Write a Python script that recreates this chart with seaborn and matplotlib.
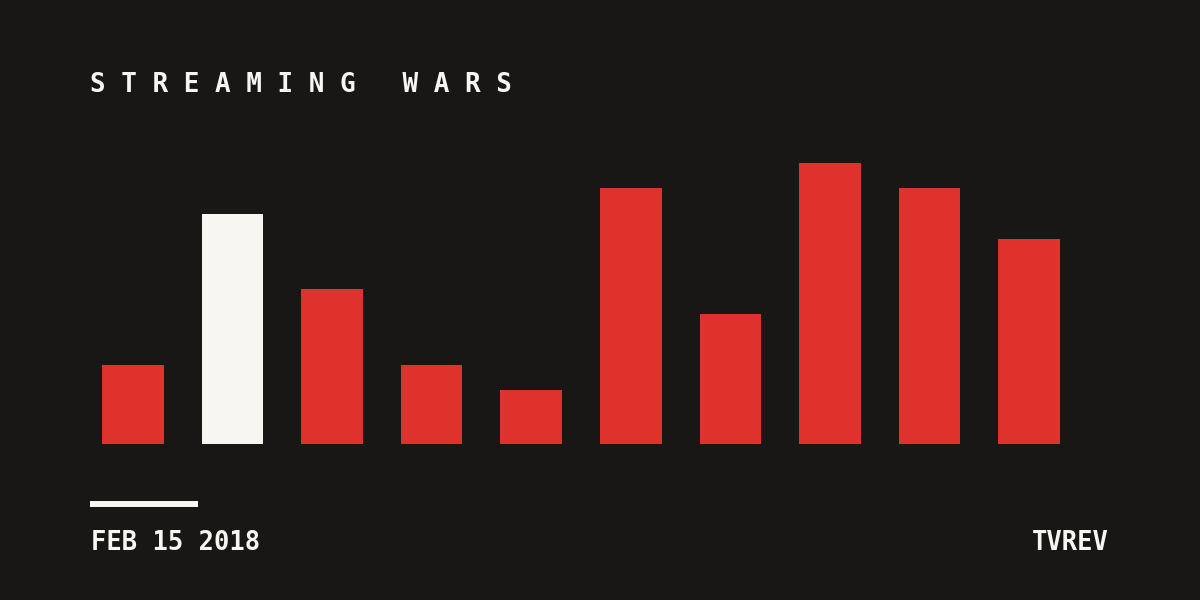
import matplotlib
matplotlib.use("Agg")
import matplotlib.pyplot as plt
import pandas as pd
import seaborn as sns

# ── Data (in pixel-height units) ───────────────────────────────────────────
CATEGORIES = ["1", "2", "3", "4", "5", "6", "7", "8", "9", "10"]
VALUES     = [79, 230, 155, 79, 54, 256, 130, 281, 256, 205]
HIGHLIGHT  = "2"

TITLE  = "STREAMING WARS"
DATE   = "FEB 15 2018"
SOURCE = "TVREV"

# ── Palette ────────────────────────────────────────────────────────────────
BG    = "#181716"
RED   = "#df322d"
WHITE = "#f8f6f1"

sns.set_theme(style="white")
plt.rcParams["font.family"] = ["DejaVu Sans Mono", "DejaVu Sans"]

df = pd.DataFrame({"cat": CATEGORIES, "val": VALUES})
palette = {c: (WHITE if c == HIGHLIGHT else RED) for c in CATEGORIES}

fig = plt.figure(figsize=(12, 6), dpi=100)
fig.patch.set_facecolor(BG)
ax = fig.add_axes([83 / 1200, 156 / 600, 996 / 1200, 300 / 600])
ax.set_facecolor(BG)

sns.barplot(data=df, x="cat", y="val", hue="cat", palette=palette,
            legend=False, width=0.62, saturation=1, linewidth=0, ax=ax)
ax.set_xlim(-0.5, len(CATEGORIES) - 0.5)
ax.set_ylim(0, 300)
ax.set_axis_off()

# spaced-out title
fig.text(90 / 1200, 1 - 85 / 600, " ".join(TITLE), color=WHITE,
         fontsize=18.7, fontweight="bold", ha="left", va="center")

# short rule above the date
fig.add_artist(plt.Line2D([90 / 1200, 198 / 1200], [1 - 504 / 600] * 2,
                          color=WHITE, linewidth=4.3, solid_capstyle="butt"))

fig.text(91 / 1200, 1 - 543 / 600, DATE, color=WHITE, fontsize=18.4,
         fontweight="bold", ha="left", va="center")
fig.text(1109 / 1200, 1 - 543 / 600, SOURCE, color=WHITE, fontsize=18.4,
         fontweight="bold", ha="right", va="center")

fig.savefig("out.png", dpi=100, facecolor=BG)
